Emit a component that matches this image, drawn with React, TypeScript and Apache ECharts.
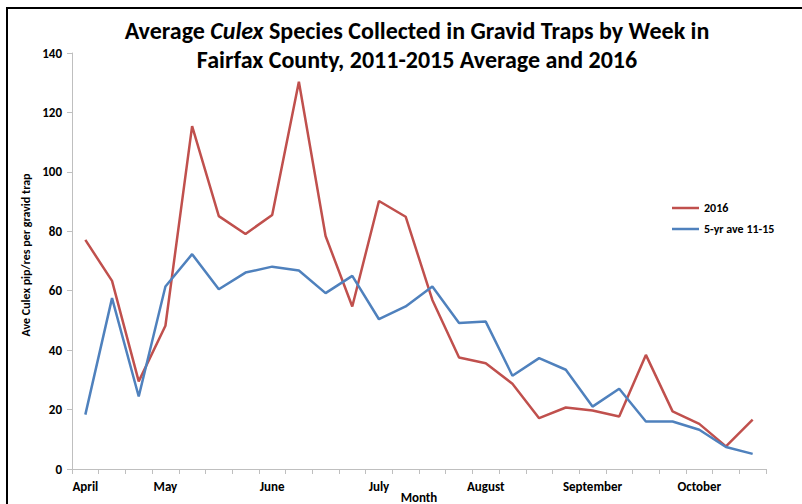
import React, { useEffect, useRef } from "react";
import * as echarts from "echarts";

// Weekly categories: only the first week of each month carries a label
const weeks: string[] = [
  "April", "", "", "May", "", "", "", "June", "", "", "", "July", "", "",
  "", "August", "", "", "", "September", "", "", "", "October", "", "",
];

const series2016: number[] = [
  77.1, 63.3, 29.5, 48.2, 115.4, 85.1, 79.1, 85.5, 130.3, 78.4, 54.7, 90.2, 84.9,
  56.9, 37.5, 35.6, 28.7, 17.1, 20.7, 19.7, 17.7, 38.4, 19.4, 15.2, 7.6, 16.6,
];

const series5yr: number[] = [
  18.3, 57.5, 24.4, 61.4, 72.3, 60.5, 66.1, 68.1, 66.8, 59.2, 65.0, 50.4, 54.7,
  61.4, 49.1, 49.6, 31.4, 37.3, 33.4, 21.0, 27.0, 16.0, 16.0, 13.2, 7.4, 5.1,
];

const seriesNames: string[] = ["2016", "5-yr ave 11-15"];

const FONT = "Carlito, Lato, 'Open Sans', sans-serif";

export default function App() {
  const ref = useRef<HTMLDivElement>(null);

  useEffect(() => {
    if (!ref.current) return;
    const chart = echarts.init(ref.current, undefined, { renderer: "svg" });
    const axisGray = "#bfbfbf";
    const lineIcon = "path://M0,0L27,0L27,2.5L0,2.5Z";
    chart.setOption({
      animation: false,
      backgroundColor: "#ffffff",
      title: {
        text:
          "Average {i|Culex} Species Collected in Gravid Traps by Week in\nFairfax County, 2011-2015 Average and 2016",
        left: 412,
        top: 11,
        textAlign: "center",
        textStyle: {
          fontFamily: FONT,
          fontSize: 24,
          fontWeight: "bold",
          color: "#000000",
          lineHeight: 29,
          rich: {
            i: {
              fontFamily: FONT,
              fontSize: 24,
              fontWeight: "bold",
              fontStyle: "italic",
              color: "#000000",
              lineHeight: 29,
            },
          },
        },
      },
      legend: {
        orient: "vertical",
        left: 667,
        top: 197,
        itemWidth: 27,
        itemHeight: 14,
        itemGap: 9,
        icon: lineIcon,
        textStyle: {
          fontFamily: FONT,
          fontSize: 12,
          fontWeight: "bold",
          color: "#000000",
        },
        data: seriesNames,
      },
      grid: { left: 72, right: 36, top: 53, bottom: 35, outerBoundsMode: "none" },
      xAxis: {
        type: "category",
        data: weeks,
        boundaryGap: true,
        name: "Month",
        nameLocation: "middle",
        nameGap: 22,
        nameMoveOverlap: false,
        nameTextStyle: {
          fontFamily: FONT,
          fontSize: 13,
          fontWeight: "bold",
          color: "#000000",
        },
        axisLine: { lineStyle: { color: axisGray, width: 1 } },
        axisTick: { show: true, length: 5, interval: 0, lineStyle: { color: axisGray } },
        axisLabel: {
          interval: 0,
          margin: 11,
          fontFamily: FONT,
          fontSize: 13,
          fontWeight: "bold",
          color: "#000000",
        },
        splitLine: { show: false },
      },
      yAxis: {
        type: "value",
        min: 0,
        max: 140,
        interval: 20,
        name: "Ave Culex pip/res per gravid trap",
        nameLocation: "middle",
        nameRotate: 90,
        nameGap: 40,
        nameMoveOverlap: false,
        nameTextStyle: {
          fontFamily: FONT,
          fontSize: 12,
          fontWeight: "bold",
          color: "#000000",
          padding: [0, 0, 0, 12],
        },
        axisLine: { show: true, lineStyle: { color: axisGray, width: 1 } },
        axisTick: { show: true, length: 5, lineStyle: { color: axisGray } },
        axisLabel: {
          margin: 10,
          fontFamily: FONT,
          fontSize: 13,
          fontWeight: "bold",
          color: "#000000",
        },
        splitLine: { show: false },
      },
      series: [
        {
          name: seriesNames[0],
          type: "line",
          data: series2016,
          symbol: "none",
          lineStyle: { color: "#C0504D", width: 2.5 },
          itemStyle: { color: "#C0504D" },
        },
        {
          name: seriesNames[1],
          type: "line",
          data: series5yr,
          symbol: "none",
          lineStyle: { color: "#4F81BD", width: 2.5 },
          itemStyle: { color: "#4F81BD" },
        },
      ],
      graphic: [
        {
          type: "rect",
          shape: { x: 7, y: 8, width: 900, height: 600 },
          style: { fill: "none", stroke: "#000000", lineWidth: 2 },
          silent: true,
        },
      ],
    });
    return () => chart.dispose();
  }, []);

  return (
    <div
      ref={ref}
      style={{ position: "fixed", left: 0, top: 0, width: 802, height: 504 }}
    />
  );
}
